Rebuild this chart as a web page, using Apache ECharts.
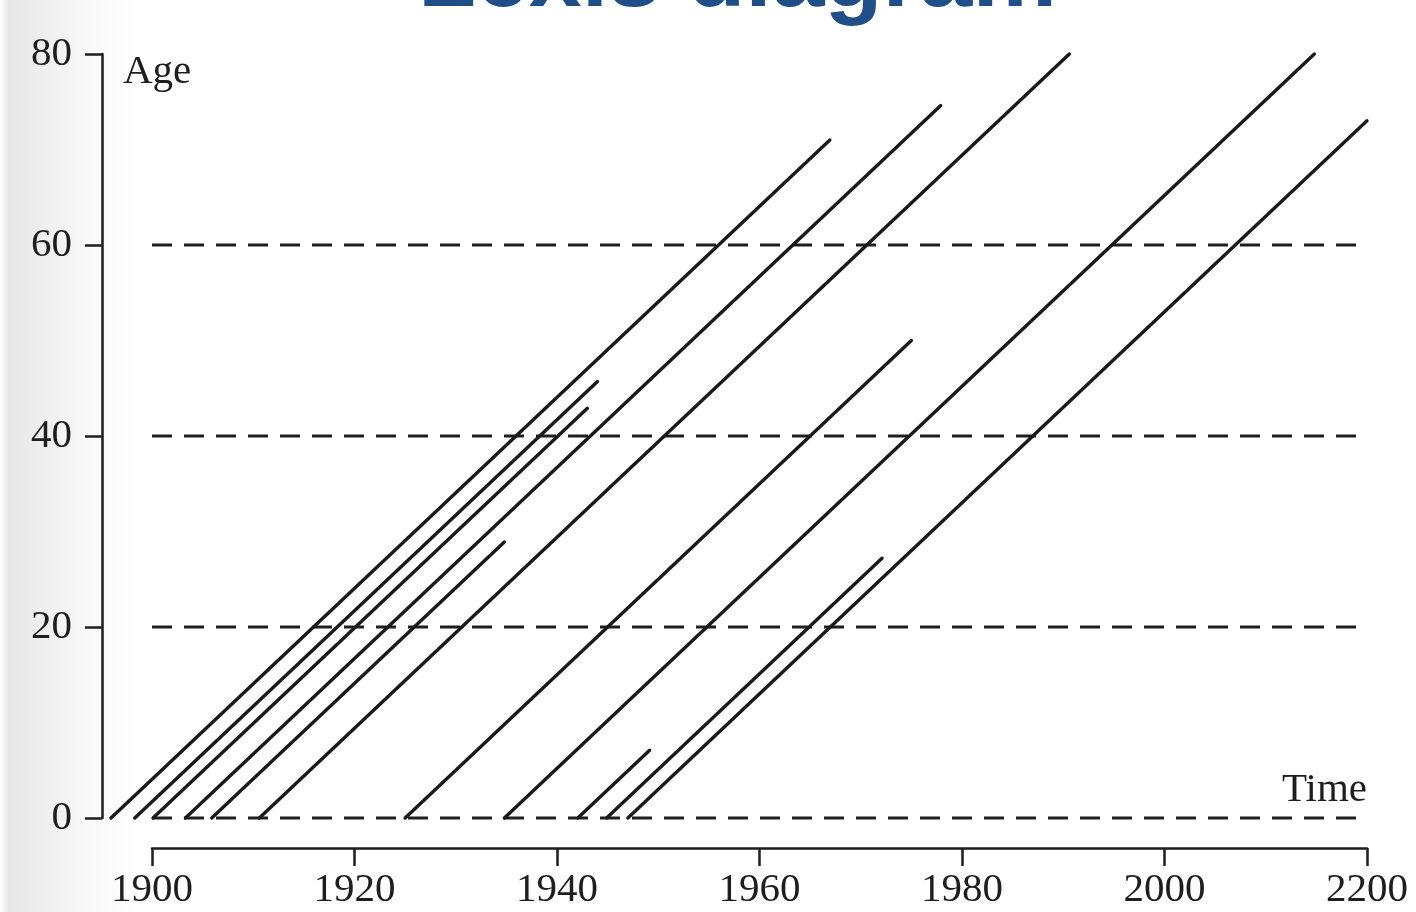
<!DOCTYPE html>
<html>
<head>
<meta charset="utf-8">
<script src="https://cdn.jsdelivr.net/npm/echarts@6/dist/echarts.min.js"></script>
<style>
html,body{margin:0;padding:0;background:#fff;}
#chart{width:1416px;height:912px;}
</style>
</head>
<body>
<div id="chart"></div>
<script>
// ---- data ----
var titleText = 'Lexis diagram';
// birth year of each lifeline (starts at age 0)
var births  = [1895.95, 1898.3, 1900.1, 1903.3, 1905.9, 1910.6, 1925.0, 1934.8, 1942.05, 1944.9, 1947.0];
// age at which each lifeline ends
var endAges = [71.0, 45.7, 42.9, 74.6, 28.9, 80.0, 50.0, 80.0, 7.1, 27.2, 73.0];
// reference (dashed) ages
var refAges = [0, 20, 40, 60];
var refSpan = [1900, 2020];
// axis ticks
var xTickValues = [1900, 1920, 1940, 1960, 1980, 2000, 2020];
var xTickLabels = ['1900', '1920', '1940', '1960', '1980', '2000', '2200'];
var yTickValues = [0, 20, 40, 60, 80];
var yTickLabels = ['0', '20', '40', '60', '80'];
var xName = 'Time';
var yName = 'Age';

// ---- chart ----
var ink = '#1e1e1e';
var serif = '"Liberation Serif", "DejaVu Serif", serif';
var chart = echarts.init(document.getElementById('chart'), null, {renderer: 'canvas'});

// layout: visible axes grid (0) and a wider, hidden drawing grid (1) with identical scale
var G = {left: 152, right: 49, top: 54, bottom: 94};
var xMin = 1900, xMax = 2020, yMin = 0, yMax = 80;
var pxPerYear = (1416 - G.left - G.right) / (xMax - xMin);
var pxPerAge = (912 - G.top - G.bottom) / (yMax - yMin);
var padYears = 10, padAges = 5;
var G2 = {
  left: G.left - padYears * pxPerYear,
  right: G.right,
  top: G.top - padAges * pxPerAge,
  bottom: G.bottom - padAges * pxPerAge
};

var series = [];
refAges.forEach(function (a) {
  series.push({
    type: 'line', silent: true, symbol: 'none',
    xAxisIndex: 1, yAxisIndex: 1,
    data: [[refSpan[0], a], [refSpan[1], a]],
    lineStyle: {color: ink, width: 3, type: [20, 12]},
    z: 2
  });
});
births.forEach(function (b, i) {
  var a = endAges[i];
  series.push({
    type: 'line', silent: true, symbol: 'none',
    xAxisIndex: 1, yAxisIndex: 1,
    data: [[b, 0], [b + a, a]],
    lineStyle: {color: '#1a1a1a', width: 3.4, cap: 'round'},
    z: 3
  });
});

var option = {
  backgroundColor: {
    type: 'linear', x: 0, y: 0, x2: 1, y2: 0,
    colorStops: [
      {offset: 0, color: '#ffffff'},
      {offset: 0.006, color: '#e6e6e6'},
      {offset: 0.025, color: '#ededed'},
      {offset: 0.06, color: '#f8f8f8'},
      {offset: 0.1, color: '#ffffff'},
      {offset: 1, color: '#ffffff'}
    ]
  },
  animation: false,
  title: {
    text: titleText,
    left: 413,
    top: -73,
    textStyle: {
      color: '#1f4e89',
      fontSize: 95,
      fontWeight: 'bold',
      fontFamily: '"Liberation Sans", Arial, sans-serif'
    }
  },
  grid: [
    {left: G.left, right: G.right, top: G.top, bottom: G.bottom, containLabel: false},
    {left: G2.left, right: G2.right, top: G2.top, bottom: G2.bottom, containLabel: false}
  ],
  xAxis: [{
    type: 'value', gridIndex: 0, min: xMin, max: xMax, interval: 20, offset: 30,
    axisLine: {show: true, onZero: false, lineStyle: {color: ink, width: 2.5}},
    axisTick: {show: true, length: 18, lineStyle: {color: ink, width: 2.5}},
    splitLine: {show: false},
    axisLabel: {
      margin: 22, color: ink, fontSize: 41, fontFamily: serif,
      formatter: function (v) {
        var i = xTickValues.indexOf(v);
        return i >= 0 ? xTickLabels[i] : '';
      }
    }
  }, {
    type: 'value', gridIndex: 1, min: xMin - padYears, max: xMax, show: false,
    axisLine: {onZero: false},
    splitLine: {show: false}
  }],
  yAxis: [{
    type: 'value', gridIndex: 0, min: yMin, max: yMax, interval: 20, offset: 50,
    axisLine: {show: true, onZero: false, lineStyle: {color: ink, width: 2.5}},
    axisTick: {show: true, length: 17, lineStyle: {color: ink, width: 2.5}},
    splitLine: {show: false},
    axisLabel: {
      margin: 30, color: ink, fontSize: 41, fontFamily: serif,
      formatter: function (v) {
        var i = yTickValues.indexOf(v);
        return i >= 0 ? yTickLabels[i] : '';
      }
    }
  }, {
    type: 'value', gridIndex: 1, min: yMin - padAges, max: yMax + padAges, show: false,
    axisLine: {onZero: false},
    splitLine: {show: false}
  }],
  graphic: [
    {type: 'text', left: 123, top: 52, style: {text: yName, fill: ink, font: '41px ' + serif}},
    {type: 'text', right: 49, top: 770, style: {text: xName, fill: ink, font: '41px ' + serif}}
  ],
  series: series
};
chart.setOption(option);
</script>
</body>
</html>
